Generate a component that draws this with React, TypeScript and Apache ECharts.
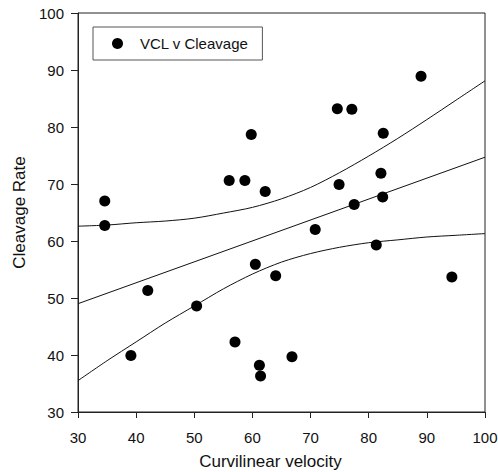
import React, { useEffect, useRef } from "react";
import * as echarts from "echarts";

const seriesName = "VCL v Cleavage";
const xTitle = "Curvilinear velocity";
const yTitle = "Cleavage Rate";

const vclValues = [34.6, 34.6, 56.0, 58.7, 59.8, 89.0, 74.6, 77.1, 82.5, 62.2, 74.9, 82.1, 77.5, 82.4, 70.8, 42.0, 50.4, 39.1, 57.0, 60.5, 64.0, 81.3, 94.3, 66.8, 61.2, 61.4];
const cleavageValues = [67.0, 62.7, 70.6, 70.6, 78.7, 88.9, 83.2, 83.1, 78.9, 68.7, 69.9, 71.9, 66.4, 67.7, 62.0, 51.3, 48.6, 39.9, 42.3, 55.9, 53.9, 59.3, 53.7, 39.7, 38.2, 36.3];

const fitX = [30, 100];
const fitY = [49.0, 74.7];

const bandX = [30, 35, 40, 45, 50, 55, 60, 65, 70, 75, 80, 85, 90, 95, 100];
const upperY = [62.6, 62.8, 63.2, 63.5, 64.0, 64.9, 65.9, 67.4, 69.4, 72.0, 74.9, 78.0, 81.3, 84.7, 88.1];
const lowerY = [35.5, 39.0, 42.3, 45.6, 48.6, 51.6, 54.2, 56.3, 57.8, 58.9, 59.7, 60.2, 60.7, 61.0, 61.3];

const FONT = "'Liberation Sans', Arial, sans-serif";

export default function App() {
  const ref = useRef<HTMLDivElement>(null);
  useEffect(() => {
    if (!ref.current) return;
    const chart = echarts.init(ref.current, undefined, { renderer: "svg" });
    const lineStyle = { color: "#111", width: 1 };
    chart.setOption({
      animation: false,
      textStyle: { fontFamily: FONT, color: "#111" },
      grid: {
        left: 78, right: 13, top: 13, bottom: 60,
        show: true, borderColor: "#222", borderWidth: 1,
        containLabel: false, outerBoundsMode: "none",
      },
      legend: {
        data: [seriesName],
        left: 93,
        top: 27,
        orient: "horizontal",
        icon: "circle",
        itemWidth: 11,
        itemHeight: 11,
        padding: [9, 14, 9, 19],
        borderColor: "#555",
        borderWidth: 1,
        borderRadius: 0,
        textStyle: { fontFamily: FONT, fontSize: 15, color: "#111", padding: [0, 0, 0, 12] },
      },
      xAxis: {
        type: "value",
        min: 30,
        max: 100,
        interval: 10,
        name: xTitle,
        nameLocation: "middle",
        nameGap: 41,
        nameTextStyle: { fontFamily: FONT, fontSize: 17, color: "#111", padding: [0, 22, 0, 0] },
        axisLine: { show: true, lineStyle: { color: "#222", width: 1 } },
        axisTick: { show: true, length: 6, lineStyle: { color: "#222" } },
        axisLabel: { fontFamily: FONT, fontSize: 15, color: "#111", margin: 18 },
        splitLine: { show: false },
      },
      yAxis: {
        type: "value",
        min: 30,
        max: 100,
        interval: 10,
        name: yTitle,
        nameLocation: "middle",
        nameGap: 48,
        nameTextStyle: { fontFamily: FONT, fontSize: 17, color: "#111" },
        axisLine: { show: true, lineStyle: { color: "#222", width: 1 } },
        axisTick: { show: true, length: 7, lineStyle: { color: "#222" } },
        axisLabel: { fontFamily: FONT, fontSize: 15, color: "#111", margin: 14 },
        splitLine: { show: false },
      },
      series: [
        {
          name: seriesName,
          type: "scatter",
          symbol: "circle",
          symbolSize: 11,
          itemStyle: { color: "#000", opacity: 1 },
          data: vclValues.map((x, i) => [x, cleavageValues[i]]),
          z: 3,
        },
        {
          name: "fit",
          type: "line",
          showSymbol: false,
          lineStyle,
          data: fitX.map((x, i) => [x, fitY[i]]),
        },
        {
          name: "upper",
          type: "line",
          showSymbol: false,
          smooth: 0.3,
          lineStyle,
          data: bandX.map((x, i) => [x, upperY[i]]),
        },
        {
          name: "lower",
          type: "line",
          showSymbol: false,
          smooth: 0.3,
          lineStyle,
          data: bandX.map((x, i) => [x, lowerY[i]]),
        },
      ],
    });
    return () => chart.dispose();
  }, []);
  return (
    <div
      ref={ref}
      style={{ position: "fixed", left: 0, top: 0, width: 498, height: 472, background: "#fff" }}
    />
  );
}
